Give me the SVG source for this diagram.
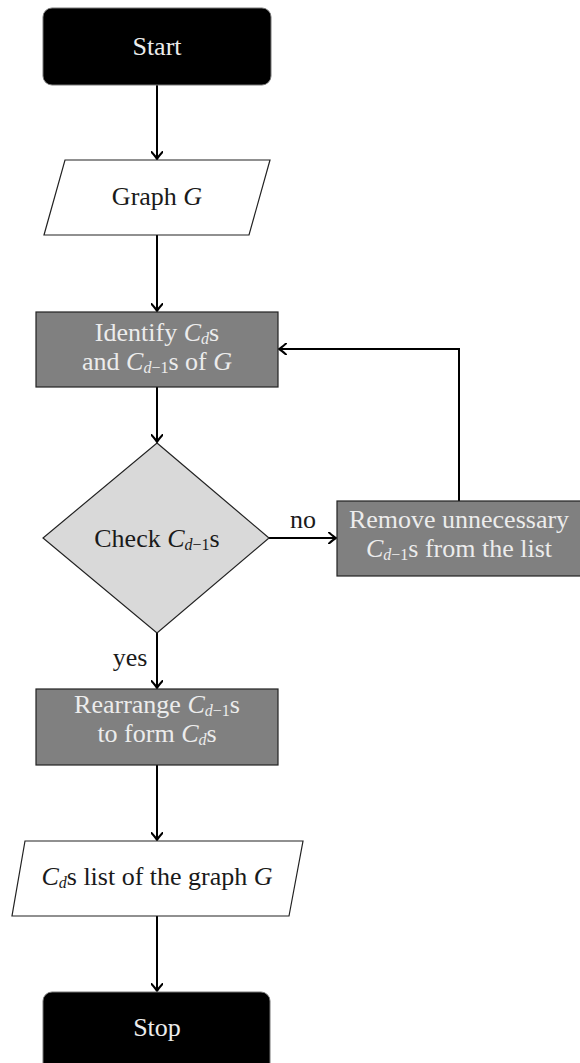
<svg xmlns="http://www.w3.org/2000/svg" width="580" height="1063" viewBox="0 0 580 1063">
<style>
  text { font-family: "Liberation Serif", "Times New Roman", serif; font-size: 26px; text-anchor: middle; }
  .lt { fill: #ececec; }
  .dk { fill: #1a1a1a; }
  .term { fill: #000; stroke: #777; stroke-width: 1; }
  .proc { fill: #808080; stroke: #222; stroke-width: 1.2; }
  .io { fill: #fff; stroke: #222; stroke-width: 1.2; }
  .dec { fill: #d9d9d9; stroke: #222; stroke-width: 1.2; }
  .conn { fill: none; stroke: #000; stroke-width: 2; marker-end: url(#arr); }
  .m { font-style: italic; }
  .sub { font-style: italic; font-size: 16px; }
  .subr { font-style: normal; font-size: 16px; }
</style>
<defs>
  <marker id="arr" viewBox="-8 -6 10 12" refX="0" refY="0" markerWidth="10" markerHeight="12" markerUnits="userSpaceOnUse" orient="auto">
    <path d="M -7,-5.5 Q -2,-1 0,0 Q -2,1 -7,5.5" fill="none" stroke="#000" stroke-width="2" stroke-linecap="round" stroke-linejoin="round"/>
  </marker>
</defs>

<g id="connectors">
  <line class="conn" x1="157" y1="85" x2="157" y2="159"/>
  <line class="conn" x1="157" y1="235" x2="157" y2="311"/>
  <line class="conn" x1="157" y1="387" x2="157" y2="442"/>
  <line class="conn" x1="269" y1="538" x2="336" y2="538"/>
  <polyline class="conn" points="459,501 459,349 279,349"/>
  <line class="conn" x1="157" y1="633" x2="157" y2="688"/>
  <line class="conn" x1="157" y1="765" x2="157" y2="840"/>
  <line class="conn" x1="157" y1="916" x2="157" y2="991"/>
  <text class="dk" x="303" y="528">no</text>
  <text class="dk" x="130" y="666">yes</text>
</g>

<g id="start">
  <rect class="term" x="43" y="8" width="228" height="77" rx="9"/>
  <text class="lt" x="157" y="55">Start</text>
</g>

<g id="input">
  <polygon class="io" points="65,160 270,160 249,235 44,235"/>
  <text class="dk" x="157" y="205">Graph <tspan class="m">G</tspan></text>
</g>

<g id="identify">
  <rect class="proc" x="36" y="312" width="242" height="75"/>
  <text class="lt" x="157" y="341">Identify <tspan class="m">C</tspan><tspan class="sub" dy="2.5">d</tspan><tspan dy="-2.5">s</tspan></text>
  <text class="lt" x="157" y="370">and <tspan class="m">C</tspan><tspan class="sub" dy="2.5">d</tspan><tspan class="subr">−1</tspan><tspan dy="-2.5">s of </tspan><tspan class="m">G</tspan></text>
</g>

<g id="check">
  <polygon class="dec" points="157,443 269,538 157,633 43,538"/>
  <text class="dk" x="157" y="547">Check <tspan class="m">C</tspan><tspan class="sub" dy="2.5">d</tspan><tspan class="subr">−1</tspan><tspan dy="-2.5">s</tspan></text>
</g>

<g id="remove">
  <rect class="proc" x="337" y="501" width="250" height="75"/>
  <text class="lt" x="459" y="528">Remove unnecessary</text>
  <text class="lt" x="459" y="557"><tspan class="m">C</tspan><tspan class="sub" dy="2.5">d</tspan><tspan class="subr">−1</tspan><tspan dy="-2.5">s from the list</tspan></text>
</g>

<g id="rearrange">
  <rect class="proc" x="36" y="689" width="242" height="76"/>
  <text class="lt" x="157" y="713">Rearrange <tspan class="m">C</tspan><tspan class="sub" dy="2.5">d</tspan><tspan class="subr">−1</tspan><tspan dy="-2.5">s</tspan></text>
  <text class="lt" x="157" y="742">to form <tspan class="m">C</tspan><tspan class="sub" dy="2.5">d</tspan><tspan dy="-2.5">s</tspan></text>
</g>

<g id="output">
  <polygon class="io" points="25,841 303,841 289,916 12,916"/>
  <text class="dk" x="157" y="885"><tspan class="m">C</tspan><tspan class="sub" dy="2.5">d</tspan><tspan dy="-2.5">s list of the graph </tspan><tspan class="m">G</tspan></text>
</g>

<g id="stop">
  <rect class="term" x="43" y="992" width="227" height="80" rx="9"/>
  <text class="lt" x="157" y="1036">Stop</text>
</g>
</svg>
